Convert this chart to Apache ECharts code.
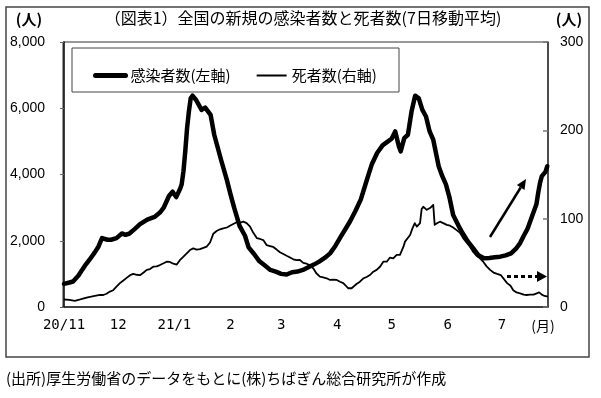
<!DOCTYPE html>
<html><head><meta charset="utf-8">
<script src="https://cdn.jsdelivr.net/npm/echarts@6/dist/echarts.min.js"></script>
<style>html,body{margin:0;padding:0;background:#fff}#c{width:601px;height:398px}</style>
</head><body><div id="c"></div>
<script>
// Day index 0 = 2020-11-01
const monthTickDays = [0, 30, 61, 92, 120, 151, 181, 212, 242];
const monthTickLabels = ['20/11', '12', '21/1', '2', '3', '4', '5', '6', '7'];

const casesDays = [0,3,5,8,10,12,14,17,19,21,22,24,26,29,32,34,36,39,42,46,50,53,55,58,60,62,64,65,66,67,68,69,70,71,72,73,75,76,78,79,81,83,85,87,90,92,94,97,100,102,105,108,111,114,117,120,123,126,129,132,135,138,141,144,147,150,153,156,158,161,164,167,170,173,176,179,181,183,185,186,188,190,192,194,196,198,200,202,204,207,209,211,213,215,218,220,223,226,229,232,235,238,241,244,247,250,252,254,256,258,260,261,262,263,264,265,266,267];
const casesValues = [700,740,770,950,1120,1280,1420,1650,1820,2080,2100,2030,2030,2080,2220,2180,2210,2350,2500,2640,2720,2850,2990,3350,3480,3320,3550,3700,4100,4700,5400,5900,6300,6380,6330,6250,6050,5950,6020,6000,5800,5200,4800,4400,3830,3400,3000,2450,2150,1800,1600,1380,1250,1120,1070,1000,980,1050,1070,1120,1200,1280,1370,1480,1620,1850,2130,2400,2580,2900,3250,3780,4300,4650,4880,5000,5080,5300,4850,4700,5100,5200,5900,6380,6300,5950,5750,5300,5050,4250,3950,3700,3300,2780,2450,2250,1990,1780,1560,1470,1480,1500,1520,1560,1620,1780,1930,2150,2350,2650,2950,3100,3450,3750,3950,4000,4080,4250];

const deathsDays = [0,3,6,9,12.5,14.4,17,19.9,21.7,23.5,25.4,27.2,29,30.9,32.8,34.6,36.5,38.3,40.2,42,44,45.7,47.5,49.3,51.2,53,55,56.7,58.5,60.4,62.3,64,66,67.8,69.6,71.4,73.3,75.1,77,78.8,80.7,82.5,84.3,86.2,88,90,91.7,93.5,95.4,97.2,99.1,100.9,102.8,104.6,106.5,108.3,110.1,112,113.8,115.6,117.5,119.3,121.2,123,124.9,126.7,128.5,130.3,132.2,134,135.9,137.7,139.4,141.4,143.2,145.1,147,148.8,150.7,152.5,154.3,155.2,157.1,158.9,159.8,161.6,163.5,165.4,167.2,169,170.9,172.7,174.6,176.4,178.3,180.1,181.9,183.8,185.6,187.5,188.4,189.3,191.2,192.5,193.8,194.9,196.7,197.6,198.5,199.5,200.4,202.2,203.1,204,204.8,206.3,207.7,209.5,211.5,213.3,215,216.9,218.8,220.5,222.4,224.3,226.2,228,229.8,231.7,233.5,235.4,237.3,239.3,241.3,242.2,244.8,246.7,248.2,250,252,254,255.6,257.5,259.4,261.2,262.5,264,265.5,267.4];
const deathsValues = [8.5,8,7,8.5,10.5,11.5,12.5,13.6,13.6,15,17.5,19,23,27,30,33,36,37.5,36.5,36,39,42,43,45.6,46,47.5,49.5,51.3,51,49,48,53,57,60.8,64.5,66.4,65,65.5,67,68.3,73,83,86,88,89,90,92,94,96,95.5,96.6,95,91,84,78,77,75.8,70,69,68,65,62,60,58,56,54,53,53.2,50,49,47.5,43.8,38.2,34.3,33.5,32.5,30.6,31,30.6,28.6,27,25,21.2,21.2,23,26,28.6,32.5,34,36.2,40,42,45.6,51.3,51.3,56,55,58.9,58.9,68,74,75.8,81.5,89,95,91,95,111,113.5,112,110,112,113.5,115.5,93,95,96.6,95,93,92,90,87,84,78,73,68.3,62,58,55,51,46,42,39,37.5,36.2,34.3,27,24,19,16.5,15.5,14,13.6,14,14,15.5,16.6,14,12.5,11.7];

const casesData = casesDays.map((d, i) => [d, casesValues[i]]);
const deathsData = deathsDays.map((d, i) => [d, deathsValues[i]]);

const chart = echarts.init(document.getElementById('c'), null, {renderer: 'canvas'});
const cjk = "'Noto Sans CJK JP', sans-serif";

chart.setOption({
  animation: false,
  backgroundColor: '#fff',
  grid: {left: 63, top: 42, width: 485, height: 265, show: true, borderColor: '#333', borderWidth: 1, backgroundColor: 'transparent'},
  legend: {
    left: 88, top: 63,
    itemWidth: 30, itemHeight: 14, itemGap: 25,
    textStyle: {fontSize: 15, fontFamily: cjk, color: '#000'},
    data: [
      {name: '感染者数(左軸)', lineStyle: {width: 5, cap: 'round'}, itemStyle: {opacity: 0}},
      {name: '死者数(右軸)', lineStyle: {width: 2}, itemStyle: {opacity: 0}}
    ]
  },
  xAxis: {
    type: 'value', min: -0.55, max: 267.4,
    axisLine: {show: true, onZero: false, lineStyle: {color: '#222', width: 1.5}},
    axisTick: {show: false},
    splitLine: {show: false},
    axisLabel: {
      customValues: monthTickDays,
      margin: 11, fontSize: 14, fontFamily: "'DejaVu Sans Mono', monospace", color: '#000',
      formatter: v => { const i = monthTickDays.indexOf(v); return i >= 0 ? monthTickLabels[i] : ''; }
    }
  },
  yAxis: [
    {
      type: 'value', min: 0, max: 8000, interval: 2000, position: 'left',
      axisLine: {show: true, lineStyle: {color: '#000', width: 1.5}},
      axisTick: {show: true, inside: false, length: 4, lineStyle: {color: '#666'}},
      splitLine: {show: false},
      axisLabel: {margin: 18, fontSize: 14, fontFamily: "'Liberation Sans', Arial, sans-serif", color: '#000',
        formatter: v => v.toLocaleString('en-US')}
    },
    {
      type: 'value', min: 0, max: 300, interval: 100, position: 'right',
      axisLine: {show: true, lineStyle: {color: '#333', width: 1.5}},
      axisTick: {show: true, inside: true, length: 5, lineStyle: {color: '#777', width: 1.5}},
      splitLine: {show: false},
      axisLabel: {margin: 12, fontSize: 14, fontFamily: "'Liberation Sans', Arial, sans-serif", color: '#000'}
    }
  ],
  series: [
    {name: '感染者数(左軸)', type: 'line', yAxisIndex: 0, data: casesData, symbol: 'none', showSymbol: false,
      lineStyle: {width: 4.5, color: '#000', join: 'round', cap: 'round'}, itemStyle: {color: '#000'}, z: 3},
    {name: '死者数(右軸)', type: 'line', yAxisIndex: 1, data: deathsData, symbol: 'none', showSymbol: false,
      lineStyle: {width: 1.8, color: '#000', join: 'round'}, itemStyle: {color: '#000'}, z: 2}
  ],
  graphic: [
    {type: 'rect', shape: {x: 6, y: 7, width: 583, height: 350}, style: {fill: 'none', stroke: '#444', lineWidth: 1.5}, z: 0},
    {type: 'rect', shape: {x: 72, y: 48, width: 327, height: 44}, style: {fill: '#fff', stroke: '#444', lineWidth: 1}, z: 1},
    {type: 'text', x: 303, y: 18, style: {text: '（図表1）全国の新規の感染者数と死者数(7日移動平均)', fontSize: 16, fontFamily: cjk, fill: '#000', textAlign: 'center', textVerticalAlign: 'middle'}},
    {type: 'text', x: 29, y: 19, style: {text: '(人)', fontSize: 15, fontWeight: 'bold', fontFamily: cjk, fill: '#000', textAlign: 'center', textVerticalAlign: 'middle'}},
    {type: 'text', x: 569, y: 19, style: {text: '(人)', fontSize: 15, fontWeight: 'bold', fontFamily: cjk, fill: '#000', textAlign: 'center', textVerticalAlign: 'middle'}},
    {type: 'text', x: 543, y: 326, style: {text: '(月)', fontSize: 14, fontFamily: cjk, fill: '#000', textAlign: 'center', textVerticalAlign: 'middle'}},
    {type: 'text', x: 6, y: 378, style: {text: '(出所)厚生労働省のデータをもとに(株)ちばぎん総合研究所が作成', fontSize: 15, fontFamily: cjk, fill: '#000', textAlign: 'left', textVerticalAlign: 'middle'}},
    {type: 'line', shape: {x1: 490, y1: 237, x2: 520.7, y2: 187.5}, style: {stroke: '#000', lineWidth: 2.5}, z: 5},
    {type: 'polygon', shape: {points: [[526, 179], [524.5, 189.9], [516.9, 185.1]]}, style: {fill: '#000'}, z: 5},
    {type: 'line', shape: {x1: 507, y1: 276.5, x2: 537, y2: 276.5}, style: {stroke: '#000', lineWidth: 3, lineDash: [4, 3]}, z: 5},
    {type: 'polygon', shape: {points: [[537, 271], [547, 276.5], [537, 282]]}, style: {fill: '#000'}, z: 5}
  ]
});
</script>
</body></html>
